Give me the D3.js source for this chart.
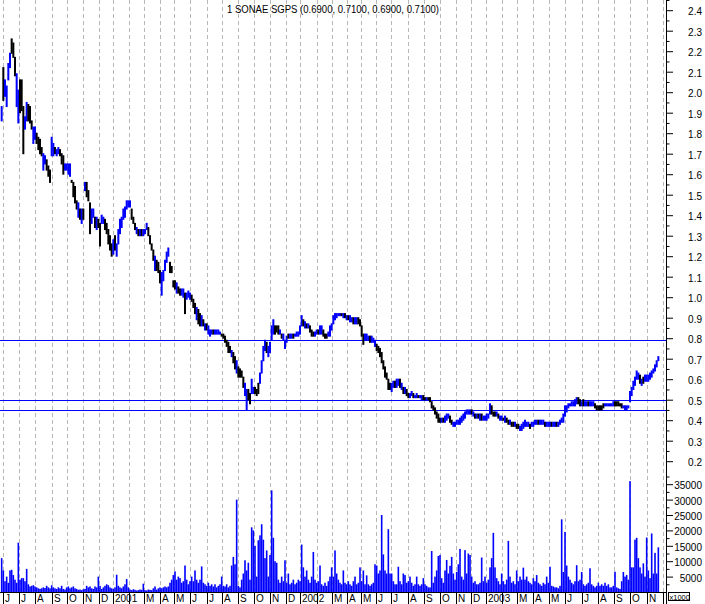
<!DOCTYPE html>
<html><head><meta charset="utf-8">
<script src="https://cdn.jsdelivr.net/npm/d3@7"></script>
<style>
html,body{margin:0;padding:0;background:#fff;}
svg{display:block;font-family:"Liberation Sans",Arial,sans-serif;}
</style></head><body>
<svg id="c" width="705" height="604"></svg>
<script>
// ---------------- DATA ----------------
const title = "1 SONAE SGPS (0.6900, 0.7100, 0.6900, 0.7100)";
// month labels Jun 2000 .. Nov 2003 (year replaces January, February label hidden)
const monthLabels = ["J","J","A","S","O","N","D","2001","","M","A","M","J","J","A","S","O","N","D",
  "2002","","M","A","M","J","J","A","S","O","N","D","2003","","M","A","M","J","J","A","S","O","N"];
// trading sessions in each month, Jun 2000 .. Nov 2003
const monthSessions = [21,22,22,21,21,21,19, 21,20,21,18,22,22,20,22,20,22,21,19,
  22,20,20,19,20,20,22,21,21,22,20,19, 22,20,21,21,22,22,21,21,22,23,21];
const priceTicks = [0.2,0.3,0.4,0.5,0.6,0.7,0.8,0.9,1.0,1.1,1.2,1.3,1.4,1.5,1.6,1.7,1.8,1.9,2.0,2.1,2.2,2.3,2.4];
const volumeTicks = [5000,10000,15000,20000,25000,30000,35000];
const levelLines = [0.79, 0.5, 0.45];
const priceHi = [
1.93,2.12,2.06,2.03,2.14,2.19,2.26,2.24,2.17,2.09,
2.01,2.06,2.06,1.93,1.88,1.95,1.94,1.93,1.86,1.83,
1.83,1.80,1.78,1.77,1.73,1.70,1.69,1.67,1.64,1.62,
1.78,1.75,1.73,1.72,1.73,1.72,1.70,1.69,1.65,1.65,
1.65,1.65,1.57,1.56,1.54,1.47,1.46,1.43,1.43,1.43,
1.56,1.56,1.52,1.46,1.43,1.43,1.39,1.39,1.38,1.36,
1.40,1.39,1.38,1.36,1.33,1.30,1.26,1.28,1.30,1.26,
1.33,1.38,1.39,1.43,1.44,1.47,1.47,1.47,1.43,1.39,
1.36,1.34,1.33,1.33,1.33,1.33,1.33,1.36,1.34,1.30,
1.26,1.23,1.20,1.18,1.17,1.13,1.12,1.13,1.18,1.22,
1.24,
1.17,1.15,1.08,1.08,1.07,1.05,1.04,1.04,1.04,1.02,
1.02,1.03,1.02,1.01,0.99,0.97,0.95,0.94,0.92,0.91,
0.89,0.87,0.87,0.86,0.84,0.84,0.84,0.84,0.84,0.84,
0.83,0.82,0.82,0.81,0.79,0.78,0.76,0.74,0.73,0.71,
0.69,0.66,0.65,0.64,0.61,0.58,0.55,0.55,0.53,0.60,
0.56,0.56,0.55,0.58,0.63,0.69,0.76,0.79,0.78,0.76,
0.78,0.86,0.89,0.86,0.86,0.86,0.84,0.82,0.82,0.79,
0.81,0.82,0.82,0.82,0.82,0.82,0.83,0.83,0.86,0.91,
0.89,0.88,0.87,0.87,0.86,0.84,0.83,0.83,0.84,0.84,
0.86,0.86,0.84,0.82,0.82,0.83,
0.86,0.87,0.91,
0.92,0.92,0.92,0.92,0.92,0.92,0.92,0.91,0.91,0.91,
0.90,0.90,0.90,0.90,0.90,0.89,0.86,0.82,0.82,0.82,
0.81,0.81,0.81,0.80,0.79,0.77,0.76,0.75,0.73,0.69,
0.66,0.63,0.60,0.58,0.58,0.59,0.59,0.60,0.60,0.60,
0.58,0.56,0.56,0.55,0.53,0.53,0.54,0.53,0.52,0.53,
0.52,0.52,0.52,0.52,0.51,0.51,0.51,0.51,0.49,0.47,
0.46,0.44,0.43,0.41,0.41,0.41,0.42,0.43,0.43,0.42,
0.40,0.39,0.39,0.40,0.40,0.41,0.42,0.43,0.44,0.45,
0.45,0.45,0.45,0.44,0.43,0.43,0.43,0.43,0.43,0.42,
0.42,0.43,0.43,0.48,0.47,0.44,
0.44,0.44,0.43,0.42,0.42,0.41,0.42,0.41,0.40,0.40,
0.39,0.39,0.39,0.38,0.38,0.37,0.38,0.39,0.40,0.39,
0.39,0.38,0.39,0.39,0.40,0.40,0.40,0.40,0.40,0.40,
0.39,0.39,0.39,0.39,0.39,0.39,0.39,0.39,0.39,0.40,
0.41,0.43,0.47,0.47,0.48,0.48,0.49,0.49,0.50,0.51,
0.51,0.50,0.49,0.50,0.49,0.49,0.49,0.49,0.49,0.49,
0.48,0.47,0.47,0.47,0.47,0.48,0.48,0.48,0.48,0.48,
0.48,0.49,0.49,0.49,0.49,0.48,0.48,0.47,0.47,0.47,
0.47,0.54,0.56,0.59,0.61,0.64,0.63,0.62,0.60,0.61,
0.62,0.62,0.62,0.63,0.64,0.65,0.67,0.69,0.71];
const priceLo = [
1.86,1.96,1.98,1.93,2.06,2.12,2.19,2.17,2.08,1.93,
1.85,1.90,1.91,1.70,1.82,1.86,1.86,1.85,1.82,1.75,
1.77,1.75,1.72,1.70,1.69,1.62,1.65,1.62,1.59,1.56,
1.69,1.69,1.70,1.69,1.70,1.69,1.65,1.60,1.62,1.62,
1.60,1.59,1.56,1.49,1.46,1.43,1.39,1.38,1.36,1.38,
1.52,1.49,1.47,1.31,1.36,1.39,1.34,1.33,1.34,1.25,
1.36,1.36,1.33,1.31,1.26,1.23,1.20,1.21,1.23,1.20,
1.26,1.31,1.34,1.38,1.39,1.43,1.44,1.44,1.38,1.36,
1.33,1.31,1.30,1.30,1.30,1.30,1.31,1.33,1.30,1.26,
1.23,1.18,1.13,1.13,1.12,1.07,1.01,1.08,1.13,1.17,
1.20,
1.12,1.12,1.05,1.04,1.02,1.02,1.01,1.01,1.00,0.92,
0.99,1.00,0.99,0.98,0.95,0.92,0.89,0.87,0.86,0.86,
0.86,0.84,0.84,0.82,0.81,0.82,0.82,0.82,0.82,0.82,
0.82,0.81,0.80,0.78,0.76,0.73,0.73,0.71,0.68,0.65,
0.63,0.61,0.61,0.61,0.56,0.52,0.45,0.50,0.48,0.53,
0.53,0.53,0.52,0.53,0.58,0.63,0.69,0.74,0.73,0.71,
0.73,0.79,0.82,0.82,0.83,0.82,0.82,0.80,0.79,0.75,
0.78,0.80,0.80,0.80,0.80,0.81,0.81,0.81,0.82,0.86,
0.86,0.85,0.85,0.85,0.83,0.81,0.81,0.81,0.82,0.82,
0.82,0.82,0.81,0.80,0.80,0.81,
0.81,0.84,0.87,
0.89,0.90,0.91,0.91,0.91,0.90,0.90,0.89,0.89,0.88,
0.88,0.87,0.87,0.87,0.87,0.86,0.81,0.77,0.79,0.79,
0.79,0.78,0.78,0.78,0.76,0.74,0.73,0.71,0.68,0.65,
0.61,0.60,0.55,0.55,0.54,0.56,0.56,0.56,0.57,0.56,
0.55,0.53,0.53,0.52,0.51,0.51,0.52,0.51,0.51,0.51,
0.51,0.51,0.50,0.50,0.50,0.50,0.50,0.49,0.46,0.45,
0.43,0.41,0.39,0.39,0.39,0.39,0.39,0.40,0.41,0.39,
0.38,0.37,0.37,0.38,0.38,0.38,0.39,0.40,0.41,0.43,
0.43,0.43,0.43,0.42,0.41,0.41,0.41,0.40,0.40,0.40,
0.40,0.40,0.41,0.43,0.43,0.42,
0.42,0.42,0.41,0.40,0.40,0.40,0.39,0.39,0.38,0.38,
0.37,0.37,0.37,0.36,0.36,0.35,0.35,0.36,0.37,0.37,
0.37,0.36,0.37,0.37,0.38,0.38,0.38,0.38,0.38,0.38,
0.37,0.37,0.37,0.37,0.37,0.37,0.37,0.37,0.37,0.38,
0.39,0.39,0.42,0.44,0.46,0.47,0.47,0.47,0.47,0.48,
0.48,0.47,0.47,0.47,0.47,0.47,0.47,0.47,0.47,0.47,
0.46,0.45,0.45,0.45,0.45,0.46,0.47,0.47,0.47,0.47,
0.47,0.47,0.47,0.47,0.47,0.47,0.46,0.46,0.45,0.45,
0.46,0.49,0.52,0.55,0.57,0.60,0.60,0.58,0.57,0.58,
0.59,0.59,0.59,0.60,0.61,0.63,0.64,0.66,0.69];
// 1 = up bar (drawn blue), 0 = down bar (drawn black), as seen in the picture
const upBar = [
1,0,1,1,1,1,0,0,0,1, 1,0,0,0,1,1,0,0,0,1, 1,0,0,0,0,1,1,0,0,0, 1,1,0,1,1,0,0,0,1,1,
1,1,0,0,0,0,1,0,1,0, 1,0,0,0,1,1,0,1,0,0, 1,1,0,0,0,0,0,1,0,1, 1,1,1,1,1,1,1,1,0,0,
0,1,0,1,0,1,1,1,0,0, 0,0,1,0,0,0,1,1,1,1, 1,
0,0,0,0,1,0,0,1,1,
0,1,1,1,0,0,0,1,0,0, 1,0,1,0,1,1,1,0,1,1, 1,1,0,0,0,0,0,0,1,0, 0,1,0,0,0,0,1,1,0,0,
1,1,0,0,0,1,1,1,1,0, 1,1,1,1,0,0,0,1,0,1, 1,1,0,1,1,0,1,1,1,1, 1,0,1,0,1,0,0,0,1,1,
0,1,1,0,0,0,1,1,1,1, 1,1,1,1,0,1,0,1,0,1, 1,0,1,1,0,0,0,0,1,1, 1,0,1,1,1,0,0,0,0,0,
0,0,0,0,1,1,0,1,1,0, 1,0,1,0,0,1,1,0,1,1, 0,1,1,0,0,1,0,0,0,0, 0,0,0,0,1,0,1,1,1,0,
0,1,1,1,1,1,1,1,1,1, 1,1,0,1,0,1,0,1,0,1, 1,1,1,1,0,0,0,1,0,1, 1,0,1,0,0,1,0,0,1,0,
0,1,1,1,1,1,1,0,1,1, 1,1,0,1,1,1,0,1,1,1, 0,1,1,0,1,1,1,1,1,1, 1,1,1,1,1,1,0,0,1,0,
1,1,0,1,1,1,0,0,0,0, 0,0,1,1,1,1,1,1,0,0, 0,0,0,1,1,1,1,1,1,1, 1,1,1,0,1,0,1,1,1,1,
1,1,1,1,1];
const volume = [
11000,7000,3500,5000,3000,7000,7200,5500,4000,3000,
16000,4000,4500,4500,3500,7500,2500,1800,2000,2200,
1800,1500,1200,1000,1200,1500,1300,2000,1500,1200,
2200,1500,1200,1000,1500,1200,2000,1000,800,1500,
1800,1200,1500,1800,1200,1000,700,800,600,900,
1000,2000,1500,1800,1200,1000,1800,1500,5000,2000,
1000,1500,2000,2500,2200,1500,1200,1000,1500,5600,
2000,1500,1200,1800,2500,4200,1500,800,600,900,
700,500,600,800,700,2700,600,500,800,700,
600,1200,1800,800,1200,1500,1200,1500,1800,1500,
1800,3000,4000,5500,6700,4000,5000,4500,3000,3500,
8600,4000,2500,3500,5000,3500,7000,4000,3000,4000,
8300,3000,2500,2000,3000,2000,2500,1800,2500,1500,
2000,2500,5000,2000,1800,2500,1500,2000,8600,11400,
9000,30000,2000,1500,4000,6000,10300,7000,9500,4000,
21000,20000,15000,5000,16800,18400,22000,17000,11000,13500,
5000,12000,33000,17600,10000,9500,4000,3000,5000,3500,
10300,3000,6000,2500,3000,4000,2500,3000,4000,3500,
15400,8000,5000,7000,4000,3000,5000,13000,4000,3000,
3500,8600,2500,2000,3000,2000,3500,5000,8000,5000,
13500,6000,4000,3000,2500,7000,3000,2500,3500,2500,
2000,3500,5000,2500,3000,8000,3500,7000,2500,5400,
2500,2000,2500,3000,9000,8600,6000,7000,25000,12200,
7000,6000,20400,6000,6000,3500,2500,2500,8200,3500,
2500,6000,5500,3000,3500,5000,3000,2000,2500,5000,
2500,2000,2500,4500,2500,2000,1500,1500,13300,3000,
5000,7000,11700,12000,4500,3000,7000,10400,6000,8500,
11400,6000,4000,6500,9000,14000,5000,4000,13600,6000,
12500,12000,5000,3000,3500,2500,2500,3000,11200,3500,
5000,3000,4000,8000,11000,19200,8000,4500,3500,2500,
6000,3500,2500,4000,16600,5000,3000,3500,2500,7000,
3500,5000,4000,7900,4000,5000,3500,3000,2500,4500,
3500,5500,3000,2500,2000,3000,2500,5000,3000,8200,
2000,1800,1500,1500,1200,2000,23600,6500,19500,8600,
5000,4000,3000,2500,3500,8700,3500,4000,6500,2500,
2000,2500,3000,7700,2500,2000,1500,2000,3000,2000,
2500,2000,3000,2000,2500,1500,1500,2000,6600,1500,
1200,1000,3500,6500,5000,5500,4000,36000,8000,8000,
17000,17600,11000,8000,6000,9300,5000,17700,7000,4500,
19000,6000,12700,6000,14500];

// ---------------- LAYOUT ----------------
const BLUE = "#0000ff";
const axisX = 666, bottomY = 592, H = 604;
const monthStart = [0];
monthSessions.forEach(n => monthStart.push(monthStart[monthStart.length - 1] + n));
const totalSessions = monthStart[monthStart.length - 1];
const x = d3.scaleLinear().domain([0, totalSessions]).range([2.7, 663.3]);
const pxPerSession = (663.3 - 2.7) / totalSessions;
const sampleStep = 1.6667 / pxPerSession;
const sampleStart = (1.6667 - 2.7) / pxPerSession;
const sx = i => x(sampleStart + i * sampleStep);

const svg = d3.select("#c");
const yP = d3.scaleLinear().domain([0.5, 2.4]).range([399.7, 10.2]);
const yV = d3.scaleLinear().domain([0, 35000]).range([bottomY, 484.2]);

// gridlines
svg.append("g").selectAll("line").data(monthStart).join("line")
  .attr("x1", d => Math.round(x(d)) + 0.5).attr("x2", d => Math.round(x(d)) + 0.5)
  .attr("y1", 0).attr("y2", bottomY)
  .attr("stroke", "#b8b8b8").attr("stroke-dasharray", "4,3");

// level lines
svg.append("g").selectAll("line").data(levelLines).join("line")
  .attr("x1", 0).attr("x2", axisX)
  .attr("y1", d => Math.round(yP(d)) + 0.5).attr("y2", d => Math.round(yP(d)) + 0.5)
  .attr("stroke", BLUE).attr("stroke-width", 1);

// volume bars
svg.append("g").selectAll("rect").data(volume).join("rect")
  .attr("x", (d, i) => sx(i) - 0.8)
  .attr("width", 1.6)
  .attr("y", d => yV(d))
  .attr("height", d => bottomY - yV(d))
  .attr("fill", BLUE);

// price bars (high-low range of each sample)
svg.append("g").selectAll("rect").data(priceHi).join("rect")
  .attr("x", (d, i) => sx(i) - 1)
  .attr("width", 2)
  .attr("y", d => yP(d) - 0.5)
  .attr("height", (d, i) => Math.max(2, yP(priceLo[i]) - yP(d) + 1))
  .attr("fill", (d, i) => upBar[i] ? BLUE : "#000");

// bottom axis line and month separators
svg.append("line").attr("x1", 0).attr("x2", axisX).attr("y1", bottomY + 0.5).attr("y2", bottomY + 0.5)
  .attr("stroke", "#000");
svg.append("g").selectAll("line").data(monthStart).join("line")
  .attr("x1", d => Math.round(x(d)) + 0.5).attr("x2", d => Math.round(x(d)) + 0.5)
  .attr("y1", bottomY).attr("y2", H).attr("stroke", "#000");
svg.append("g").selectAll("text").data(monthLabels).join("text")
  .attr("x", (d, i) => Math.round(x(monthStart[i])) + 2)
  .attr("y", 602).attr("font-size", 10).attr("fill", "#000").text(d => d);

// right axis line
svg.append("line").attr("x1", axisX + 0.5).attr("x2", axisX + 0.5).attr("y1", 0).attr("y2", H).attr("stroke", "#000");

// price axis
const gP = svg.append("g").attr("transform", `translate(${axisX},0)`)
  .call(d3.axisRight(yP).tickValues(priceTicks).tickSize(7).tickFormat(d3.format(".1f")));
gP.select(".domain").remove();
gP.selectAll(".tick text").attr("x", 36).attr("dy", "0.45em").attr("text-anchor", "end")
  .attr("font-size", 10).attr("font-family", "Liberation Sans, Arial, sans-serif").attr("fill", "#000");
const gPm = svg.append("g").attr("transform", `translate(${axisX},0)`)
  .call(d3.axisRight(yP).tickValues(priceTicks.map(t => t + 0.05)).tickSize(3.5).tickFormat(""));
gPm.select(".domain").remove();

// volume axis
const gV = svg.append("g").attr("transform", `translate(${axisX},0)`)
  .call(d3.axisRight(yV).tickValues(volumeTicks).tickSize(7).tickFormat(d3.format("d")));
gV.select(".domain").remove();
gV.selectAll(".tick text").attr("x", 36).attr("dy", "0.45em").attr("text-anchor", "end")
  .attr("font-size", 10).attr("font-family", "Liberation Sans, Arial, sans-serif").attr("fill", "#000");
const gVm = svg.append("g").attr("transform", `translate(${axisX},0)`)
  .call(d3.axisRight(yV).tickValues(volumeTicks.map(t => t - 2500).concat([37500])).tickSize(3.5).tickFormat(""));
gVm.select(".domain").remove();

// x1000 box
svg.append("rect").attr("x", 668.5).attr("y", 592.5).attr("width", 21).attr("height", 8)
  .attr("fill", "#fff").attr("stroke", "#000");
svg.append("text").attr("x", 669.5).attr("y", 599.5).attr("font-size", 7.5).text("x1000");

// title
svg.append("text").attr("x", 227).attr("y", 12.5).attr("font-size", 10)
  .attr("textLength", 212).attr("lengthAdjust", "spacingAndGlyphs").text(title);
</script>
</body></html>
